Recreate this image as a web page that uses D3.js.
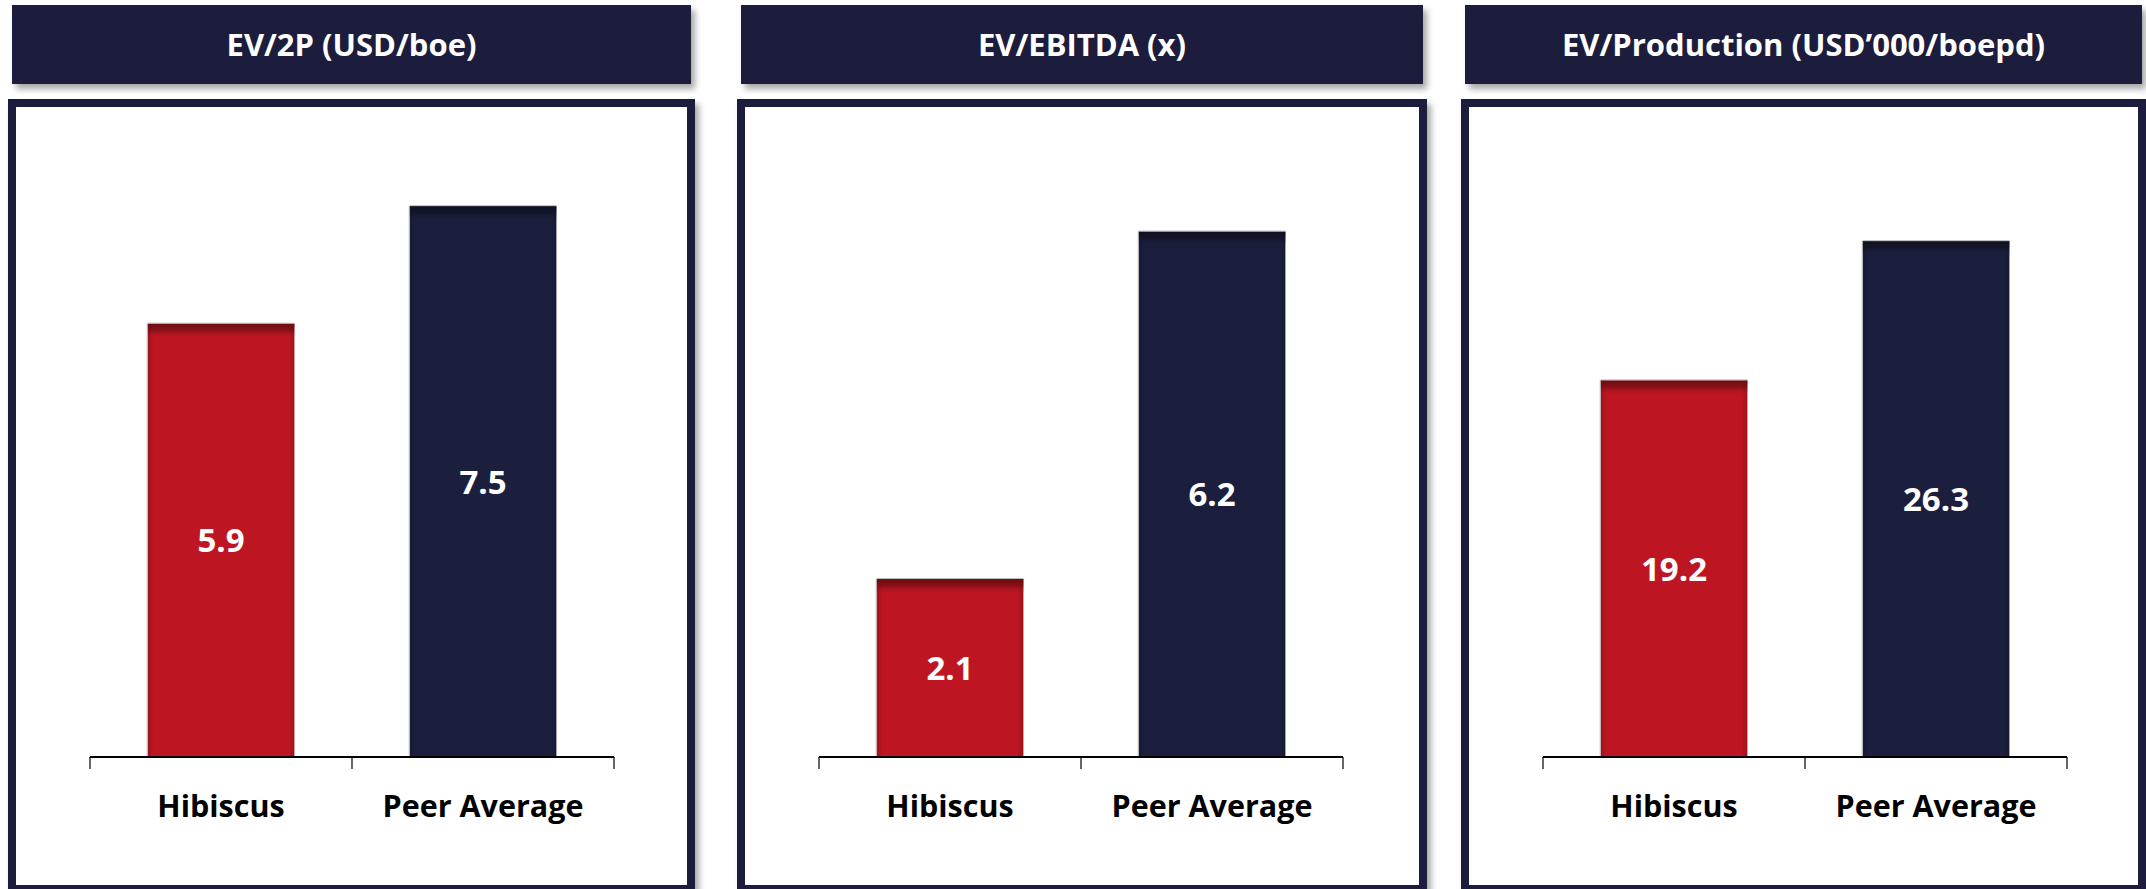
<!DOCTYPE html>
<html>
<head>
<meta charset="utf-8">
<script src="https://cdnjs.cloudflare.com/ajax/libs/d3/7.8.5/d3.min.js"></script>
<style>
  html, body { margin: 0; padding: 0; background: #ffffff; }
  svg { display: block; }
  text { font-family: "Open Sans", Lato, "Noto Sans", sans-serif; }
</style>
</head>
<body>
<svg id="chart" width="2146" height="889"></svg>
<script>
// ---- data ----
const categories = ["Hibiscus", "Peer Average"];
const panelTitles = ["EV/2P (USD/boe)", "EV/EBITDA (x)", "EV/Production (USD\u2019000/boepd)"];
const ev2pValues = [5.9, 7.5];
const evEbitdaValues = [2.1, 6.2];
const evProductionValues = [19.2, 26.3];
const axisMax = [9.0, 7.8, 33.7];   // hidden value-axis maxima
const barColors = ["#BD1622", "#1B1F3D"];
const barTopColors = ["#6A0C12", "#0E1020"];

const seriesByPanel = [ev2pValues, evEbitdaValues, evProductionValues];

// ---- layout ----
const W = 2146, H = 889;
const navy = "#1B1F3D";
const panelX = [8, 737, 1461];
const panelW = [687, 690, 685];
const headerY = 5, headerH = 79;
const boxY = 99, boxH = 794, border = 8;
const axisY = 757, plotTop = 96;
const axisInset = 82, axisW = 524;

const svg = d3.select("#chart");
const defs = svg.append("defs");

const sh = defs.append("filter").attr("id", "shadow")
  .attr("x", "-5%").attr("y", "-10%").attr("width", "115%").attr("height", "130%");
sh.append("feDropShadow").attr("dx", 4).attr("dy", 5).attr("stdDeviation", 3)
  .attr("flood-color", "#000").attr("flood-opacity", 0.35);

barColors.forEach((c, i) => {
  const g = defs.append("linearGradient").attr("id", "topShade" + i)
    .attr("x1", 0).attr("y1", 0).attr("x2", 0).attr("y2", 1);
  g.append("stop").attr("offset", "0%").attr("stop-color", barTopColors[i]).attr("stop-opacity", 1);
  g.append("stop").attr("offset", "45%").attr("stop-color", barTopColors[i]).attr("stop-opacity", 0.6);
  g.append("stop").attr("offset", "100%").attr("stop-color", c).attr("stop-opacity", 0);
  const s = defs.append("linearGradient").attr("id", "sideShade" + i)
    .attr("x1", 0).attr("y1", 0).attr("x2", 1).attr("y2", 0);
  s.append("stop").attr("offset", "0%").attr("stop-color", "#000").attr("stop-opacity", 0.18);
  s.append("stop").attr("offset", "4%").attr("stop-color", "#000").attr("stop-opacity", 0);
  s.append("stop").attr("offset", "96%").attr("stop-color", "#000").attr("stop-opacity", 0);
  s.append("stop").attr("offset", "100%").attr("stop-color", "#000").attr("stop-opacity", 0.18);
});

panelTitles.forEach((title, p) => {
  const g = svg.append("g");
  const px = panelX[p], pw = panelW[p];

  // header
  g.append("rect")
    .attr("x", px + 4).attr("y", headerY)
    .attr("width", pw - 8).attr("height", headerH)
    .attr("fill", navy).attr("filter", "url(#shadow)");
  g.append("text")
    .attr("x", px + pw / 2).attr("y", headerY + headerH / 2 + 11)
    .attr("text-anchor", "middle")
    .attr("fill", "#ffffff")
    .attr("font-size", 31).attr("font-weight", 700)
    .text(title);

  // bordered box
  g.append("rect")
    .attr("x", px + border / 2).attr("y", boxY + border / 2)
    .attr("width", pw - border).attr("height", boxH - border)
    .attr("fill", "#ffffff").attr("stroke", navy).attr("stroke-width", border)
    .attr("filter", "url(#shadow)");

  // scales
  const x = d3.scaleBand().domain(categories)
    .range([px + axisInset, px + axisInset + axisW])
    .paddingInner(0.44).paddingOuter(0.22);
  const y = d3.scaleLinear().domain([0, axisMax[p]]).range([axisY, plotTop]);

  const vals = seriesByPanel[p];
  const data = categories.map((c, i) => ({ c, v: vals[i], i }));

  const bars = g.selectAll("g.bar").data(data).join("g").attr("class", "bar");
  bars.append("rect")
    .attr("x", d => x(d.c)).attr("y", d => y(d.v))
    .attr("width", x.bandwidth()).attr("height", d => y(0) - y(d.v))
    .attr("fill", d => barColors[d.i]);
  bars.append("rect")
    .attr("x", d => x(d.c)).attr("y", d => y(d.v))
    .attr("width", x.bandwidth()).attr("height", d => y(0) - y(d.v))
    .attr("fill", d => "url(#sideShade" + d.i + ")");
  bars.append("rect")
    .attr("x", d => x(d.c)).attr("y", d => y(d.v))
    .attr("width", x.bandwidth()).attr("height", 15)
    .attr("fill", d => "url(#topShade" + d.i + ")");
  bars.append("line")
    .attr("x1", d => x(d.c) - 0.5).attr("x2", d => x(d.c) - 0.5)
    .attr("y1", d => y(d.v)).attr("y2", y(0))
    .attr("stroke", "#c8c8c8").attr("stroke-width", 1);
  bars.append("line")
    .attr("x1", d => x(d.c)).attr("x2", d => x(d.c) + x.bandwidth())
    .attr("y1", d => y(d.v) - 0.5).attr("y2", d => y(d.v) - 0.5)
    .attr("stroke", "#b8b8b8").attr("stroke-width", 1);

  // value labels
  bars.append("text")
    .attr("x", d => x(d.c) + x.bandwidth() / 2)
    .attr("y", d => (y(d.v) + y(0)) / 2 + 12)
    .attr("text-anchor", "middle")
    .attr("fill", "#ffffff")
    .attr("font-size", 33).attr("font-weight", 700)
    .text(d => d3.format(".1f")(d.v));

  // category axis with ticks at category boundaries
  const r = x.range();
  g.append("line")
    .attr("x1", r[0]).attr("x2", r[1])
    .attr("y1", axisY).attr("y2", axisY)
    .attr("stroke", "#000").attr("stroke-width", 2);
  const bounds = [r[0]].concat(categories.map(c => x(c) + x.bandwidth() / 2 + x.step() / 2));
  g.selectAll("line.tick").data(bounds).join("line").attr("class", "tick")
    .attr("x1", d => d).attr("x2", d => d)
    .attr("y1", axisY).attr("y2", axisY + 12)
    .attr("stroke", "#000").attr("stroke-width", 1.2);
  g.selectAll("text.cat").data(categories).join("text").attr("class", "cat")
    .attr("x", d => x(d) + x.bandwidth() / 2)
    .attr("y", 817)
    .attr("text-anchor", "middle")
    .attr("fill", "#000")
    .attr("font-size", 30.5).attr("font-weight", 700)
    .text(d => d);
});
</script>
</body>
</html>
